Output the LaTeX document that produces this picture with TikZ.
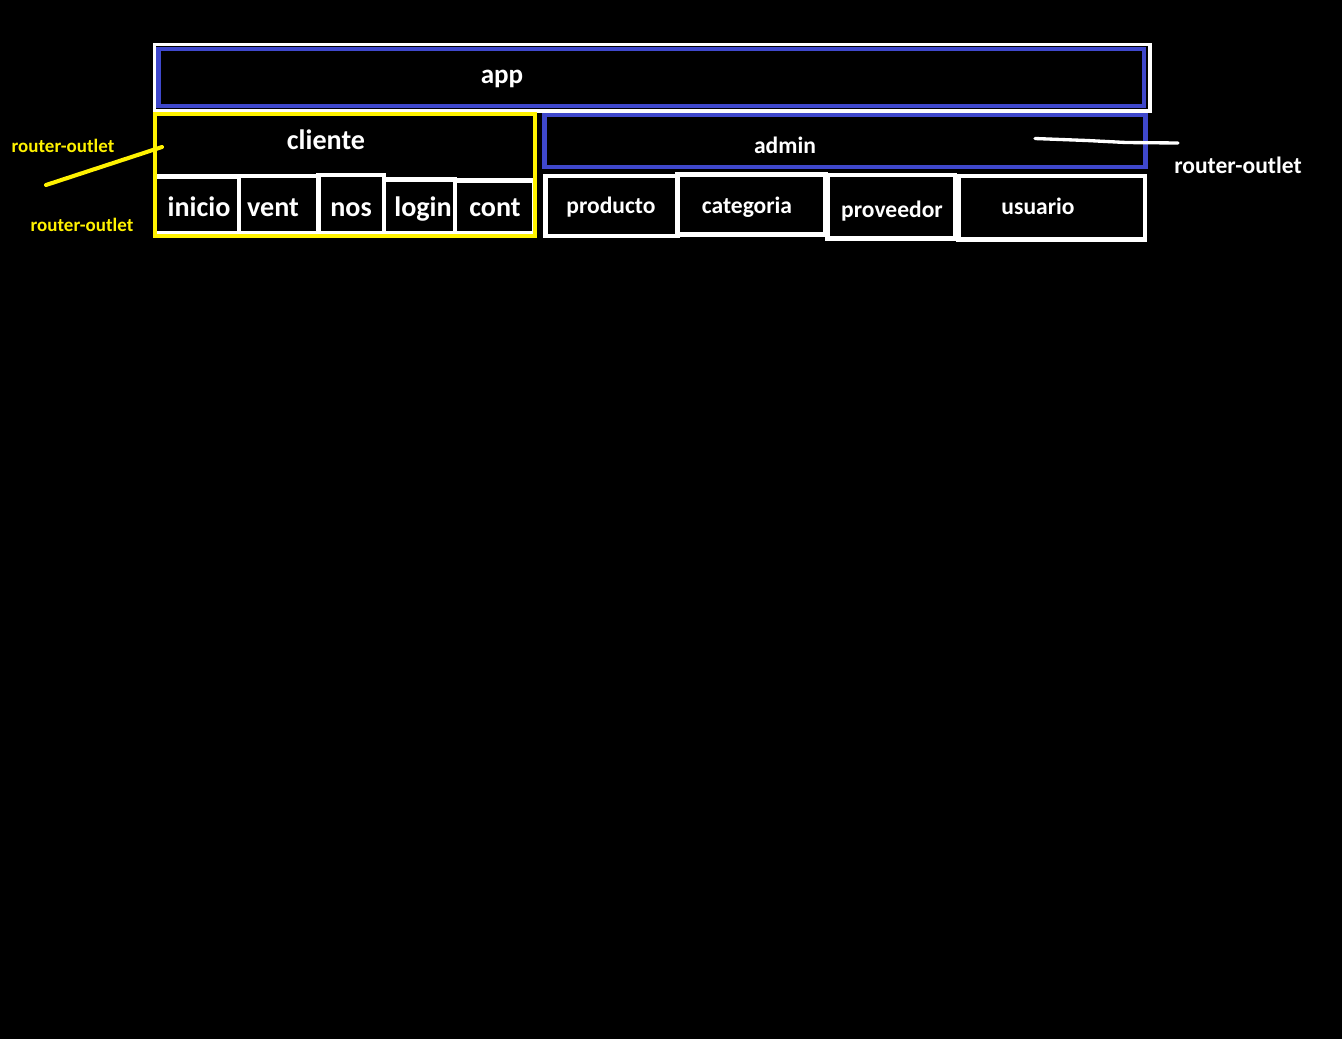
\documentclass[tikz,border=0pt]{standalone}
\usepackage{fontspec}
\setmainfont{Carlito}
\definecolor{paintblue}{RGB}{63,72,204}
\definecolor{paintyellow}{RGB}{255,242,0}

\begin{document}
\begin{tikzpicture}[x=0.02cm,y=-0.02cm,
		big/.style={text=white,font=\fontsize{16}{16}\selectfont\bfseries},
		small/.style={text=white,font=\fontsize{13.4}{13.4}\selectfont\bfseries},
		tag/.style={text=paintyellow,font=\fontsize{10.8}{10.8}\selectfont\bfseries},
		subbox/.style={draw=white,line width=2.8pt}]
		%%%%% START %%%%%
		
		\fill[black] (0,0) rectangle (1342,1039);
		\useasboundingbox (0,0) rectangle (1342,1039);
		
		% app
		\draw[white, line width=2pt] (154.5,44.5) rectangle (1150,111);
		\draw[paintblue, line width=2.8pt] (158.5,49) rectangle (1144,106);
		\node[big, font=\fontsize{15.4}{15.4}\selectfont\bfseries] (app) at (502,79) {app};
		
		% cliente
		\draw[subbox] (155,176.5) rectangle (239,233);
		\draw[subbox] (239,176) rectangle (318.5,233);
		\draw[subbox] (318.5,175) rectangle (384,233);
		\draw[subbox] (384,179.5) rectangle (455,233);
		\draw[subbox] (455,180.5) rectangle (534,233);
		\draw[paintyellow, line width=2.5pt] (155,114) rectangle (535,236);
		\node[big] (cliente) at (326,140) {cliente};
		\node[big] (inicio) at (199,207) {inicio};
		\node[big] (vent) at (273,208) {vent};
		\node[big] (nos) at (351,210) {nos};
		\node[big] (login) at (423,209) {login};
		\node[big] (cont) at (495,208) {cont};
		
		% admin
		\draw[paintblue, line width=2.8pt] (544.5,115) rectangle (1145.5,167);
		\draw[subbox] (545.5,176) rectangle (677.5,236);
		\draw[subbox] (677.5,174.5) rectangle (825.5,234.5);
		\draw[subbox] (827.5,175) rectangle (955,238.5);
		\draw[subbox] (958.5,176) rectangle (1145,239.5);
		\node[small] (admin) at (785,145) {admin};
		\node[small] (producto) at (611,207) {producto};
		\node[small] (categoria) at (747,207) {categoria};
		\node[small] (proveedor) at (892,211) {proveedor};
		\node[small] (usuario) at (1038,206) {usuario};
		
		% router-outlet
		\node[tag] (outletTop) at (63,146) {router-outlet};
		\node[tag] (outletBottom) at (82,225) {router-outlet};
		\node[small] (outletAdmin) at (1238,165) {router-outlet};
		
		\coordinate (clienteTip) at (162,147);
		\coordinate (clienteEnd) at (46,185);
		\draw[paintyellow, line width=2.3pt, line cap=round] (clienteEnd) -- (clienteTip);
		
		\coordinate (adminTip) at (1035,138.5);
		\coordinate (adminEnd) at (1178,143);
		\draw[white, line width=1.9pt, line cap=round] (adminTip) -- (1087,140.5) -- (1126,142.5) -- (adminEnd);
		
		%%%%% END %%%%%
	\end{tikzpicture}
\end{document}
